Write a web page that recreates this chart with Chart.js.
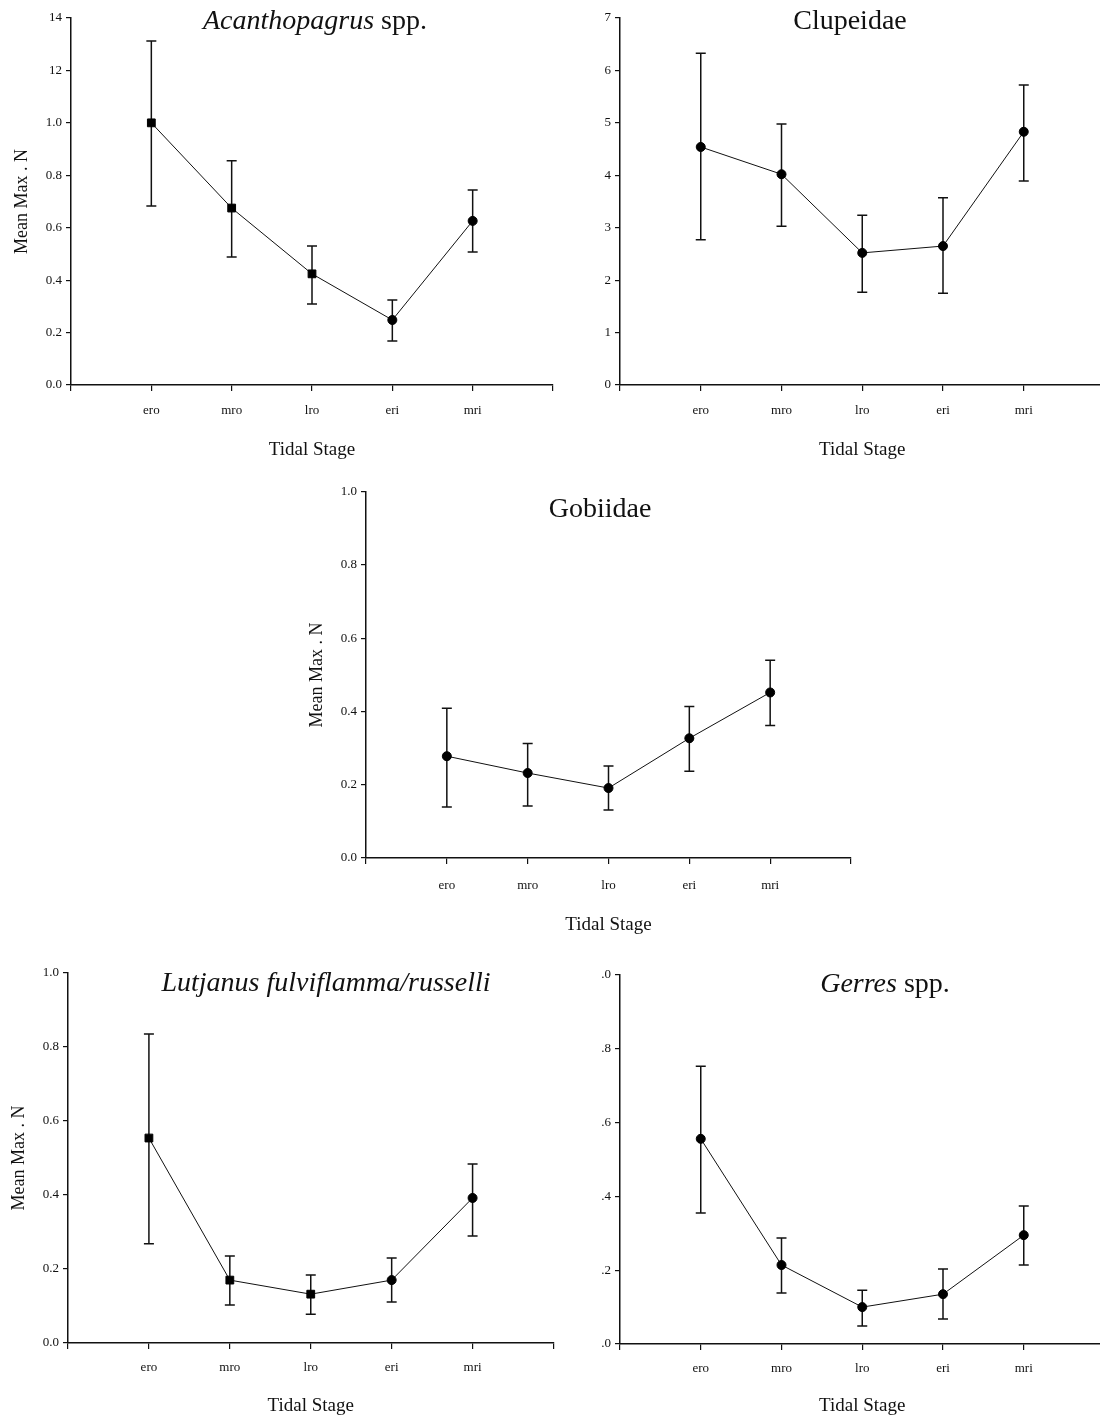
<!DOCTYPE html>
<html>
<head>
<meta charset="utf-8">
<script src="https://cdn.jsdelivr.net/npm/chart.js@4.4.1/dist/chart.umd.min.js"></script>
<style>
  body { margin: 0; background: #fff; width: 1100px; height: 1418px; position: relative; overflow: hidden; }
  canvas { position: absolute; }
  .titulo { position: absolute; font-family: "Liberation Serif", "Times New Roman", serif; font-size: 28px; color: #111;
            transform: translate(-50%, -50%); white-space: nowrap; line-height: 1; }
</style>
</head>
<body>
<canvas id="c1" width="560" height="470" style="left:0;top:0"></canvas>
<canvas id="c2" width="550" height="470" style="left:560px;top:0"></canvas>
<canvas id="c3" width="560" height="460" style="left:300px;top:480px"></canvas>
<canvas id="c4" width="560" height="478" style="left:0;top:940px"></canvas>
<canvas id="c5" width="550" height="478" style="left:560px;top:940px"></canvas>

<div class="titulo" style="left:315px;top:20px"><i>Acanthopagrus</i> spp.</div>
<div class="titulo" style="left:850px;top:20px">Clupeidae</div>
<div class="titulo" style="left:600px;top:508px">Gobiidae</div>
<div class="titulo" style="left:326px;top:982px"><i>Lutjanus fulviflamma/russelli</i></div>
<div class="titulo" style="left:885px;top:983px"><i>Gerres</i> spp.</div>

<script>
const stages = ["ero", "mro", "lro", "eri", "mri"];

// Acanthopagrus spp.
const acanthMean = [1.0, 0.675, 0.424, 0.248, 0.626];
const acanthLow = [0.683, 0.488, 0.309, 0.168, 0.507];
const acanthHigh = [1.312, 0.855, 0.53, 0.324, 0.744];
const acanthTicks = ["0.0", "0.2", "0.4", "0.6", "0.8", "1.0", "12", "14"];

// Clupeidae
const clupMean = [4.54, 4.02, 2.52, 2.65, 4.83];
const clupLow = [2.77, 3.03, 1.77, 1.75, 3.89];
const clupHigh = [6.33, 4.98, 3.24, 3.57, 5.72];
const clupTicks = ["0", "1", "2", "3", "4", "5", "6", "7"];

// Gobiidae
const gobMean = [0.278, 0.232, 0.191, 0.327, 0.452];
const gobLow = [0.139, 0.142, 0.131, 0.237, 0.362];
const gobHigh = [0.409, 0.313, 0.251, 0.414, 0.54];
const gobTicks = ["0.0", "0.2", "0.4", "0.6", "0.8", "1.0"];

// Lutjanus fulviflamma/russelli
const lutMean = [0.554, 0.170, 0.132, 0.170, 0.392];
const lutLow = [0.268, 0.103, 0.078, 0.111, 0.289];
const lutHigh = [0.835, 0.235, 0.184, 0.23, 0.484];
const lutTicks = ["0.0", "0.2", "0.4", "0.6", "0.8", "1.0"];

// Gerres spp. (labels cut off on the left in the original)
const gerMean = [0.556, 0.214, 0.100, 0.135, 0.295];
const gerLow = [0.355, 0.138, 0.049, 0.068, 0.214];
const gerHigh = [0.753, 0.287, 0.146, 0.203, 0.374];
const gerTicks = [".0", ".2", ".4", ".6", ".8", ".0"];

const serif = "'Liberation Serif', 'Times New Roman', serif";

const errorBars = {
  id: "errorBars",
  beforeDatasetsDraw(chart) {
    const ctx = chart.ctx;
    const xs = chart.scales.x, ys = chart.scales.y;
    const ds = chart.data.datasets[0];
    ctx.save();
    ctx.strokeStyle = "#111";
    ctx.lineWidth = 1.5;
    ds.data.forEach((p, i) => {
      const x = xs.getPixelForValue(p.x);
      const y1 = ys.getPixelForValue(ds.errLow[i]);
      const y2 = ys.getPixelForValue(ds.errHigh[i]);
      ctx.beginPath();
      ctx.moveTo(x, y1); ctx.lineTo(x, y2);
      ctx.moveTo(x - 5, y1); ctx.lineTo(x + 5, y1);
      ctx.moveTo(x - 5, y2); ctx.lineTo(x + 5, y2);
      ctx.stroke();
    });
    ctx.restore();
  }
};

function desenhaPainel(id, mean, low, high, yMax, yStep, yLabels, p) {
  const ctx = document.getElementById(id).getContext("2d");
  const estilos = p.styles || stages.map(() => "circle");
  return new Chart(ctx, {
    type: "line",
    data: {
      datasets: [{
        data: mean.map((v, i) => ({ x: i + 1, y: v })),
        errLow: low,
        errHigh: high,
        borderColor: "#111",
        borderWidth: 1,
        pointStyle: estilos,
        pointRadius: estilos.map(s => s === "rect" ? 5.5 : 4.5),
        pointBackgroundColor: "#000",
        pointBorderColor: "#000",
        pointBorderWidth: 1,
        tension: 0,
        fill: false
      }]
    },
    options: {
      responsive: false,
      animation: false,
      events: [],
      layout: { padding: { top: p.top, right: p.right, left: 0, bottom: 0 } },
      plugins: { legend: { display: false }, tooltip: { enabled: false } },
      scales: {
        x: {
          type: "linear", min: 0, max: 6,
          ticks: {
            stepSize: 1, autoSkip: false, maxRotation: 0, padding: p.xLabPad, color: "#111",
            font: { family: serif, size: 13 },
            callback: v => stages[v - 1] || ""
          },
          grid: { drawOnChartArea: false, color: "#111", tickLength: 6, lineWidth: 1.2 },
          border: { color: "#111", width: 1.5 },
          title: { display: true, text: "Tidal Stage", color: "#111", font: { family: serif, size: 19 },
                   padding: { top: 0, bottom: p.xTitlePad } },
          afterFit: s => { s.height = p.xH; s.paddingLeft = 0; s.paddingRight = 0; }
        },
        y: {
          min: 0, max: yMax,
          ticks: {
            stepSize: yStep, autoSkip: false, padding: 4, color: "#111",
            font: { family: serif, size: 13 },
            callback: (v, i) => yLabels[i]
          },
          grid: { drawOnChartArea: false, color: "#111", tickLength: 5, lineWidth: 1.2 },
          border: { color: "#111", width: 1.5 },
          title: { display: p.yTitle, text: "Mean Max . N", color: "#111", font: { family: serif, size: 18 },
                   padding: { top: p.yTitlePad || 0, bottom: 0 } },
          afterFit: s => { s.width = p.yW; }
        }
      }
    },
    plugins: [errorBars]
  });
}

document.addEventListener("DOMContentLoaded", () => {
  desenhaPainel("c1", acanthMean, acanthLow, acanthHigh, 1.4, 0.2, acanthTicks,
    { top: 18, right: 7, yW: 71, xH: 85, xLabPad: 12, xTitlePad: 9, yTitle: true, yTitlePad: 11,
      styles: ["rect", "rect", "rect", "circle", "circle"] });
  // right-hand panels run past the page edge, like the cropped original
  desenhaPainel("c2", clupMean, clupLow, clupHigh, 7, 1, clupTicks,
    { top: 18, right: 0, yW: 60, xH: 85, xLabPad: 12, xTitlePad: 9, yTitle: false });
  desenhaPainel("c3", gobMean, gobLow, gobHigh, 1.0, 0.2, gobTicks,
    { top: 11, right: 9, yW: 66, xH: 82, xLabPad: 14, xTitlePad: 4, yTitle: true, yTitlePad: 6 });
  desenhaPainel("c4", lutMean, lutLow, lutHigh, 1.0, 0.2, lutTicks,
    { top: 33, right: 4, yW: 68, xH: 75, xLabPad: 11, xTitlePad: 1, yTitle: true, yTitlePad: 8,
      styles: ["rect", "rect", "rect", "circle", "circle"] });
  desenhaPainel("c5", gerMean, gerLow, gerHigh, 1.0, 0.2, gerTicks,
    { top: 35, right: 0, yW: 60, xH: 74, xLabPad: 11, xTitlePad: 1, yTitle: false });
});
</script>
</body>
</html>
